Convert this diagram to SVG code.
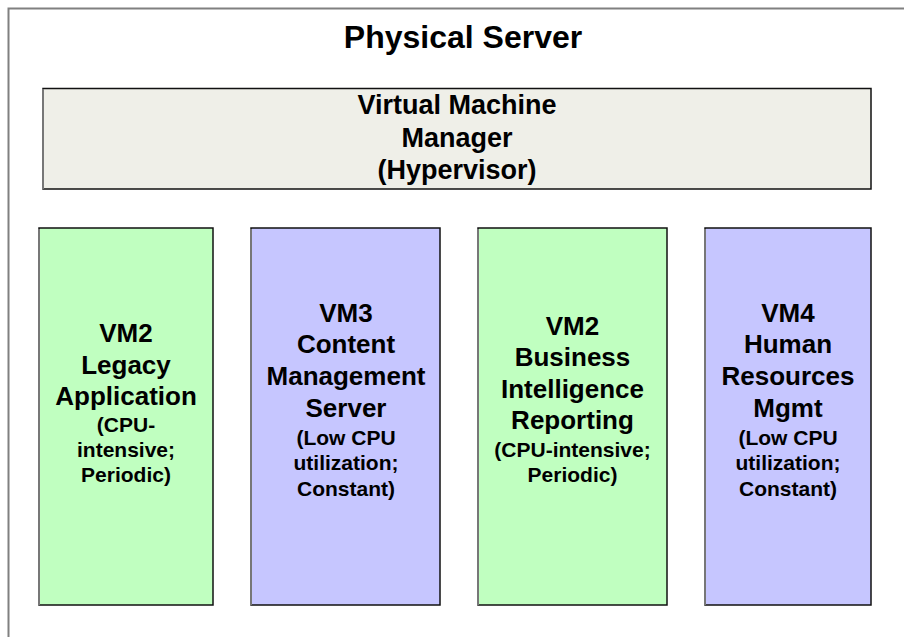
<svg xmlns="http://www.w3.org/2000/svg" width="904" height="637" viewBox="0 0 904 637">
  <style>
    text { font-family: "Liberation Sans", Arial, sans-serif; font-weight: bold; fill: #000; text-anchor: middle; }
    .title { font-size: 32px; }
    .hv { font-size: 27px; }
    .big { font-size: 26px; }
    .small { font-size: 21px; }
    .box { stroke: #111; stroke-width: 1.5; }
    .green { fill: #c0ffc0; }
    .blue { fill: #c6c6ff; }
    .edge { stroke: #777; stroke-width: 2; }
  </style>
  <rect x="0" y="0" width="904" height="637" fill="#ffffff"/>
  <g id="physical-server">
    <rect x="8.5" y="8.5" width="910" height="650" fill="none" stroke="#808080" stroke-width="2"/>
    <text class="title" x="463" y="48">Physical Server</text>
  </g>
  <g id="hypervisor">
    <rect class="box" x="43" y="88.5" width="828" height="100.5" fill="#efefe8"/>
    <line class="edge" x1="43" y1="89" x2="43" y2="189"/>
    <text class="hv" x="457" y="114">Virtual Machine</text>
    <text class="hv" x="457" y="146.5">Manager</text>
    <text class="hv" x="457" y="179">(Hypervisor)</text>
  </g>
  <g id="vm2-legacy">
    <rect class="box green" x="39" y="228" width="174" height="377"/>
    <line class="edge" x1="39" y1="229" x2="39" y2="605"/>
    <text class="big" x="126" y="342">VM2</text>
    <text class="big" x="126" y="374">Legacy</text>
    <text class="big" x="126" y="405">Application</text>
    <text class="small" x="126" y="432">(CPU-</text>
    <text class="small" x="126" y="457">intensive;</text>
    <text class="small" x="126" y="482">Periodic)</text>
  </g>
  <g id="vm3-content">
    <rect class="box blue" x="251" y="228" width="189" height="377"/>
    <line class="edge" x1="251" y1="229" x2="251" y2="605"/>
    <text class="big" x="346" y="321.5">VM3</text>
    <text class="big" x="346" y="353">Content</text>
    <text class="big" x="346" y="385">Management</text>
    <text class="big" x="346" y="416.5">Server</text>
    <text class="small" x="346" y="445">(Low CPU</text>
    <text class="small" x="346" y="470">utilization;</text>
    <text class="small" x="346" y="495.5">Constant)</text>
  </g>
  <g id="vm2-bi">
    <rect class="box green" x="478" y="228" width="189" height="377"/>
    <line class="edge" x1="478" y1="229" x2="478" y2="605"/>
    <text class="big" x="572.5" y="334.5">VM2</text>
    <text class="big" x="572.5" y="366">Business</text>
    <text class="big" x="572.5" y="397.5">Intelligence</text>
    <text class="big" x="572.5" y="429">Reporting</text>
    <text class="small" x="572.5" y="457">(CPU-intensive;</text>
    <text class="small" x="572.5" y="482">Periodic)</text>
  </g>
  <g id="vm4-hr">
    <rect class="box blue" x="705" y="228" width="166" height="377"/>
    <line class="edge" x1="705" y1="229" x2="705" y2="605"/>
    <text class="big" x="788" y="321.5">VM4</text>
    <text class="big" x="788" y="353">Human</text>
    <text class="big" x="788" y="385">Resources</text>
    <text class="big" x="788" y="416.5">Mgmt</text>
    <text class="small" x="788" y="445">(Low CPU</text>
    <text class="small" x="788" y="470">utilization;</text>
    <text class="small" x="788" y="495.5">Constant)</text>
  </g>
  <g id="connectors"></g>
</svg>
